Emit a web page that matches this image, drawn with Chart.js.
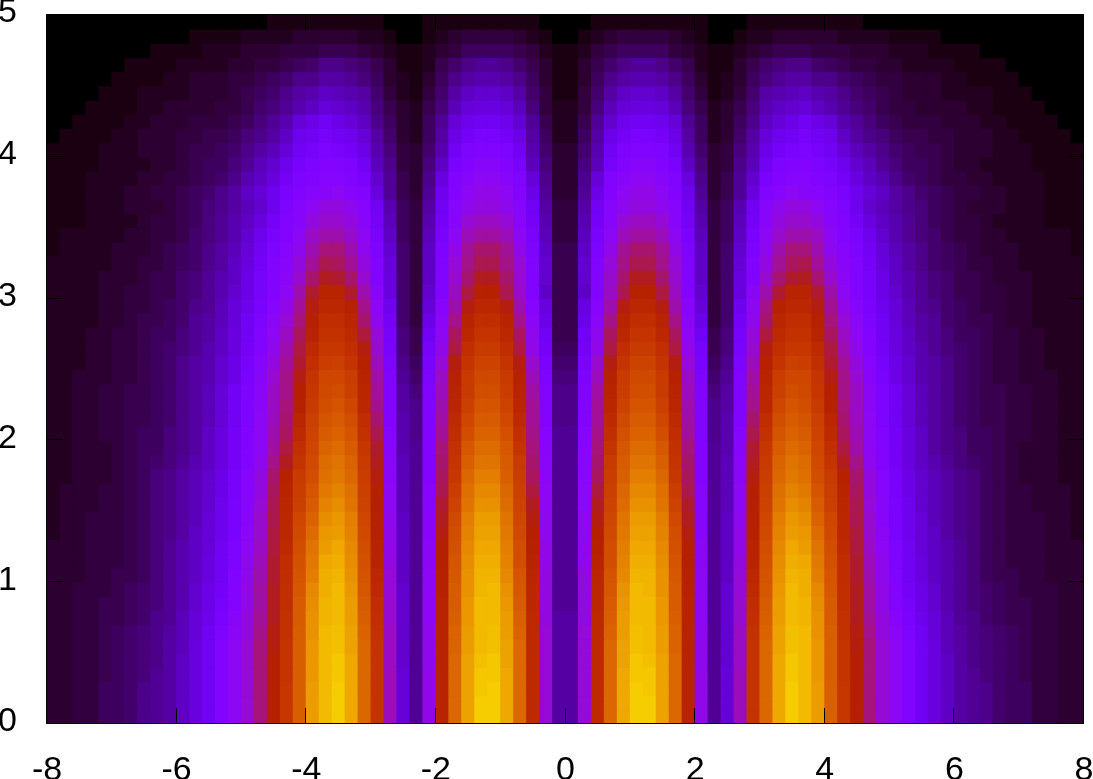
<!DOCTYPE html>
<html>
<head>
<meta charset="utf-8">
<title>Heatmap</title>
<script src="https://cdn.jsdelivr.net/npm/chart.js@4"></script>
<style>
  html, body { margin: 0; padding: 0; background: #fff; overflow: hidden; }
  canvas { display: block; }
</style>
</head>
<body>
<canvas id="heatChart" width="1093" height="779"></canvas>
<script>
const xTicks = [-8, -6, -4, -2, 0, 2, 4, 6, 8];
const yTicks = [0, 1, 2, 3, 4, 5];

// values in percent of the colour range, top row first.
// left half only (x = -8 to 0): the picture is mirror symmetric around x = 0
const heatRows = [
  [0,0,0,0,0,0,0,0,0,0,0,0,0,0,0,0,0,1,1,1,1,1,1,1,1,1,0,0,0,1,1,1,1,1,1,1,1,1,0,0],
  [0,0,0,0,0,0,0,0,0,0,0,1,1,1,1,2,2,2,2,3,3,3,3,3,2,2,1,0,0,1,2,3,4,4,4,4,3,2,1,0],
  [0,0,0,0,0,0,0,0,1,1,1,1,2,2,2,3,3,3,4,4,4,5,5,5,4,3,2,1,1,2,3,4,6,6,6,6,5,4,2,1],
  [0,0,0,0,0,0,1,1,1,1,2,2,2,2,3,3,4,4,5,6,7,9,9,8,7,5,3,1,1,2,5,7,9,10,10,9,7,5,3,1],
  [0,0,0,0,0,1,1,1,1,2,2,3,3,3,4,4,5,6,7,9,9,11,11,10,8,6,3,2,1,3,6,9,11,12,12,11,9,6,3,1],
  [0,0,0,0,1,1,1,2,2,2,2,3,3,3,4,5,6,7,9,11,12,14,13,12,11,7,4,2,1,4,7,11,14,15,15,14,11,7,4,1],
  [0,0,0,1,1,1,1,2,2,3,3,3,3,4,4,5,7,8,10,12,14,16,15,14,12,8,5,3,2,5,8,13,16,17,17,16,13,8,4,2],
  [0,0,1,1,1,1,2,2,3,3,3,4,4,4,5,6,8,10,12,16,18,20,18,16,14,9,6,3,2,6,10,16,19,20,20,19,15,10,5,2],
  [0,1,1,1,1,2,2,3,3,3,4,4,5,5,6,8,9,11,14,19,20,22,20,19,16,11,7,3,2,6,11,18,21,23,23,21,18,11,6,2],
  [1,1,1,1,2,2,2,3,3,3,4,5,5,6,7,9,11,13,16,20,22,24,23,21,18,12,8,4,3,7,12,20,24,25,25,24,20,12,7,3],
  [1,1,1,1,2,2,2,2,3,3,4,5,6,6,8,10,13,15,19,22,24,26,25,24,20,13,9,4,3,8,14,23,26,28,28,26,22,13,8,3],
  [1,1,1,2,2,2,2,3,3,4,4,5,6,7,9,12,14,17,21,24,26,27,27,26,23,15,10,5,3,9,17,25,28,30,30,28,25,16,9,3],
  [1,1,1,2,2,2,3,3,4,4,5,6,7,9,11,14,16,19,23,26,27,28,30,27,25,17,10,5,3,10,19,26,30,32,32,30,26,18,10,3],
  [1,1,1,2,2,2,3,3,3,4,5,6,8,9,11,13,15,19,24,27,30,33,33,31,27,20,12,6,4,11,20,27,31,33,33,31,27,20,11,4],
  [1,1,1,2,2,2,2,3,4,4,5,6,8,10,12,14,17,21,25,28,33,35,35,33,28,21,13,6,4,12,21,28,34,36,36,34,28,21,12,4],
  [1,2,2,2,2,2,3,3,4,4,5,7,8,10,12,15,19,23,26,30,36,38,38,35,30,23,14,6,4,13,23,30,37,39,39,37,30,23,13,4],
  [1,2,2,2,2,3,3,3,4,5,6,7,9,11,13,16,20,24,27,31,38,42,42,38,31,24,15,7,4,14,24,32,40,43,43,40,32,24,14,5],
  [2,2,2,2,2,3,3,4,4,5,6,7,9,11,14,17,21,25,28,33,40,45,44,40,33,25,16,7,4,14,25,34,41,45,45,41,34,25,15,5],
  [2,2,2,2,3,3,3,4,5,5,7,8,10,12,14,18,22,25,29,35,43,48,47,43,35,26,17,7,4,14,25,35,43,48,48,43,35,25,15,5],
  [2,2,2,2,3,3,4,4,5,5,7,8,10,12,15,18,22,26,30,38,47,52,52,47,38,28,17,7,4,15,25,36,46,51,51,45,36,25,14,5],
  [2,2,2,2,3,3,4,4,5,6,7,9,10,13,16,19,23,27,32,40,49,54,54,51,41,30,19,7,4,16,28,38,49,54,54,49,38,27,17,5],
  [2,2,2,2,3,3,4,5,5,6,7,10,11,13,16,20,24,29,34,42,51,56,56,53,43,31,21,7,4,18,29,41,52,56,56,52,41,29,18,5],
  [2,2,2,3,3,4,4,5,6,6,8,10,11,14,17,20,25,30,36,44,52,58,58,55,46,34,22,8,5,20,30,44,54,59,59,54,44,31,20,5],
  [2,2,2,3,3,4,4,5,6,7,8,10,12,14,17,21,26,31,38,46,55,60,60,57,49,35,23,8,5,22,32,46,57,61,61,56,46,32,21,6],
  [2,2,2,3,3,4,4,5,6,7,9,11,12,15,18,22,27,33,40,47,57,62,63,59,51,37,24,9,6,23,34,49,59,64,64,59,49,35,23,7],
  [2,2,3,3,3,4,4,5,6,7,9,11,12,15,18,23,28,35,41,49,59,65,65,62,52,39,25,10,7,24,36,51,61,66,66,61,51,37,24,8],
  [2,2,3,3,4,4,5,5,6,7,9,11,13,16,20,24,29,36,41,50,60,66,67,63,53,40,25,11,8,25,37,52,61,67,67,62,52,39,25,9],
  [2,2,3,3,4,4,5,5,6,7,9,11,13,16,20,24,29,36,42,51,61,67,69,65,54,41,25,11,9,25,38,53,63,69,69,64,53,40,25,9],
  [2,2,3,3,4,4,5,5,6,7,9,11,13,16,20,24,30,37,43,53,63,69,71,67,56,43,26,12,9,25,39,55,65,71,71,66,55,40,26,9],
  [2,2,3,3,4,4,5,6,6,8,9,11,14,17,21,25,30,38,44,55,64,71,73,69,58,45,27,12,9,25,40,56,67,73,73,68,57,41,27,10],
  [2,2,3,3,3,4,5,6,6,8,9,11,14,17,21,25,30,39,46,57,65,73,75,71,60,47,28,12,10,26,42,58,70,75,75,70,59,42,28,10],
  [2,2,3,3,3,4,5,6,7,8,10,12,14,17,21,26,31,41,48,59,66,75,77,73,61,48,29,13,10,26,43,59,72,77,77,71,61,43,29,10],
  [2,2,3,3,3,4,5,6,8,9,11,13,15,18,22,27,33,43,51,61,67,76,78,74,62,49,29,13,10,26,44,60,74,79,79,72,62,44,29,10],
  [2,3,3,3,4,4,5,6,8,9,11,13,15,18,22,27,33,44,52,62,69,78,80,76,63,50,30,13,10,27,45,62,76,81,81,74,63,46,30,10],
  [2,3,3,3,4,4,5,6,8,9,11,13,15,19,23,28,34,45,53,63,71,80,82,77,64,50,30,13,10,27,47,64,77,83,83,75,64,48,30,10],
  [2,3,3,4,4,4,5,6,8,9,11,13,16,19,23,28,35,45,54,65,73,82,84,79,65,51,31,14,10,28,48,66,79,85,85,77,65,49,31,10],
  [2,3,3,4,4,4,5,6,8,9,11,14,16,19,23,29,35,46,54,66,75,84,85,80,66,51,32,14,10,28,49,67,80,86,86,78,66,50,31,10],
  [3,3,3,4,4,4,5,6,8,10,12,14,16,20,24,30,36,46,55,67,77,85,87,81,67,52,32,14,10,29,50,68,81,87,87,79,67,51,32,10],
  [3,3,3,4,4,4,5,6,8,10,12,14,17,20,24,31,37,47,56,68,78,87,88,82,68,52,33,14,10,29,50,69,82,88,88,80,67,52,32,10],
  [3,3,3,4,4,5,5,6,8,10,12,14,17,20,25,31,38,47,56,69,79,88,89,83,69,54,34,14,10,30,51,70,83,89,89,81,69,53,33,10],
  [3,3,4,4,4,5,6,7,8,10,12,15,18,21,26,32,39,48,57,70,81,88,90,84,70,55,34,15,10,30,51,71,83,89,90,83,70,54,33,10],
  [3,3,4,4,5,5,6,7,8,10,12,15,18,22,26,32,39,48,57,71,82,89,90,85,71,56,35,15,10,30,52,71,84,90,90,84,71,54,33,10],
  [3,3,4,4,5,5,6,7,9,10,13,16,19,23,28,33,40,48,58,71,83,89,90,85,72,57,35,15,10,30,52,72,84,90,90,85,72,55,33,11],
  [3,3,4,4,5,6,7,8,9,11,13,16,20,24,29,33,41,49,58,72,83,90,91,86,73,58,36,15,10,31,52,73,85,90,91,85,73,55,34,11],
  [3,3,4,4,5,6,7,8,9,11,13,17,20,25,30,34,42,49,59,72,84,90,91,86,74,59,36,15,10,31,52,73,85,90,91,86,74,55,34,11],
  [3,3,4,4,5,6,7,8,9,11,14,17,20,25,30,34,42,50,59,72,84,90,92,87,74,59,36,15,10,31,52,74,86,91,92,86,74,55,34,11],
  [3,3,4,4,5,6,7,8,10,11,14,17,20,25,30,34,42,50,59,72,84,90,92,87,74,59,37,16,10,32,52,74,86,92,92,87,74,55,34,11],
  [3,3,4,4,6,6,7,9,10,11,14,17,20,25,30,34,42,50,60,72,85,90,93,87,74,59,37,16,10,32,52,74,86,92,93,87,74,55,34,11],
  [3,3,4,4,6,6,7,9,10,11,14,17,20,25,30,34,42,50,60,72,85,90,93,87,74,59,37,16,10,32,52,74,86,93,93,87,74,55,34,11],
  [3,3,4,4,6,6,7,9,10,11,14,17,20,25,30,34,42,50,60,72,85,90,93,87,74,59,37,16,10,32,52,74,86,93,93,87,74,55,34,11]
];

const cellW = 0.2;
const cellH = 0.1;
const fontName = '"Liberation Sans", Arial, sans-serif';

// same colour ramp as the original picture
function heatColor(pct) {
    const v = pct / 100;
    const r = Math.sqrt(v);
    const g = v * v * v;
    const b = Math.max(0, Math.sin(2 * Math.PI * v));
    return `rgb(${Math.round(r * 255)},${Math.round(g * 255)},${Math.round(b * 255)})`;
}

const datasets = heatRows.map(function(row, r) {
    const full = row.concat(row.slice().reverse());
    const hi = 5 - r * cellH;
    return {
        data: full.map((pct, c) => ({ x: -8 + (c + 0.5) * cellW, y: [hi - cellH, hi] })),
        backgroundColor: full.map(heatColor),
        borderWidth: 0,
        inflateAmount: 0.5,
        grouped: false,
        barPercentage: 1,
        categoryPercentage: 1
    };
});

// ticks point inward on all four sides, plus the thin frame
const frameTicks = {
    id: 'frameTicks',
    afterDatasetsDraw(chart) {
        const { ctx, chartArea: a, scales } = chart;
        const len = 16;
        ctx.save();
        ctx.strokeStyle = '#000';
        ctx.lineWidth = 1;
        ctx.beginPath();
        xTicks.forEach(function(v) {
            const x = Math.round(scales.x.getPixelForValue(v)) - 0.5;
            ctx.moveTo(x, a.bottom);
            ctx.lineTo(x, a.bottom - len);
            ctx.moveTo(x, a.top);
            ctx.lineTo(x, a.top + len);
        });
        yTicks.forEach(function(v) {
            const y = Math.round(scales.y.getPixelForValue(v)) - 0.5;
            ctx.moveTo(a.left, y);
            ctx.lineTo(a.left + len, y);
            ctx.moveTo(a.right, y);
            ctx.lineTo(a.right - len, y);
        });
        ctx.stroke();
        ctx.strokeRect(a.left - 0.5, a.top - 0.5, a.right - a.left, a.bottom - a.top);
        ctx.restore();
    }
};

new Chart(document.getElementById('heatChart'), {
    type: 'bar',
    data: { datasets: datasets },
    plugins: [frameTicks],
    options: {
        responsive: false,
        animation: false,
        events: [],
        layout: { padding: { top: 15, right: 9, left: 0, bottom: 0 } },
        plugins: { legend: { display: false }, tooltip: { enabled: false } },
        scales: {
            x: {
                type: 'linear',
                offset: false,
                min: -8,
                max: 8,
                afterBuildTicks: s => { s.ticks = xTicks.map(v => ({ value: v })); },
                // labels may run past the plot edges, as in the original
                afterFit: s => { s.height = 55; s.paddingLeft = 0; s.paddingRight = 0; },
                grid: { display: false, drawTicks: false },
                border: { display: false },
                ticks: {
                    color: '#000',
                    padding: 26,
                    maxRotation: 0,
                    autoSkip: false,
                    font: { family: fontName, size: 34 }
                }
            },
            y: {
                type: 'linear',
                min: 0,
                max: 5,
                afterBuildTicks: s => { s.ticks = yTicks.map(v => ({ value: v })); },
                afterFit: s => { s.width = 47; s.paddingTop = 0; s.paddingBottom = 0; },
                grid: { display: false, drawTicks: false },
                border: { display: false },
                ticks: {
                    color: '#000',
                    padding: 30,
                    labelOffset: -2,
                    autoSkip: false,
                    font: { family: fontName, size: 34 }
                }
            }
        }
    }
});
</script>
</body>
</html>
